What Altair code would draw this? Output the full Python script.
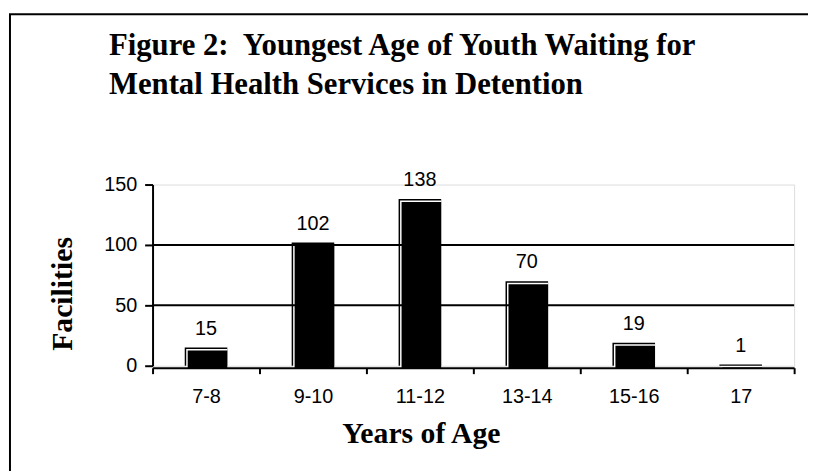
import altair as alt
import pandas as pd

ages = ["7-8", "9-10", "11-12", "13-14", "15-16", "17"]
facilities = [15, 102, 138, 70, 19, 1]
y_ticks = [0, 50, 100, 150]
grid_values = [50, 100]
title_lines = ["Figure 2:\u00a0 Youngest Age of Youth Waiting for",
               "Mental Health Services in Detention"]

df = pd.DataFrame({"age": ages, "facilities": facilities})
grid_df = pd.DataFrame({"v": grid_values})
frame_df = pd.DataFrame({"k": [0]})

SERIF = "Liberation Serif"
SANS = "Liberation Sans"

x_axis = alt.Axis(
    title="Years of Age", titleFont=SERIF, titleFontSize=30, titleFontWeight="bold",
    titleColor="black", titleX=271, titleY=67, titleBaseline="middle",
    labelAngle=0, labelFont=SANS, labelFontSize=20, labelColor="black",
    labelPadding=13, tickBand="extent", tickColor="black", tickWidth=2,
    tickSize=6, domainColor="black", domainWidth=2, offset=2, zindex=1,
)
y_axis = alt.Axis(
    values=y_ticks, grid=False, title="Facilities", titleFont=SERIF,
    titleFontSize=30, titleFontWeight="bold", titleColor="black",
    titleX=-91, titleY=110, titleBaseline="middle", titleAngle=270, titleAlign="center",
    labelFont=SANS, labelFontSize=20, labelColor="black", labelPadding=8,
    tickColor="black", tickWidth=2, tickSize=8, domainColor="black",
    domainWidth=2, zindex=1,
)
y_scale = alt.Scale(domain=[0, 150], nice=False)

x_enc = alt.X("age:N", sort=ages, scale=alt.Scale(paddingInner=0, paddingOuter=0), axis=x_axis)
y_enc = alt.Y("facilities:Q", scale=y_scale, axis=y_axis)

base = alt.Chart(df)
bar_a = base.mark_bar(color="black", width=43).encode(x=x_enc, y=y_enc)
bar_b = base.mark_bar(color="white", width=41.5, xOffset=0.75, yOffset=1.5).encode(x=x_enc, y=y_enc)
bar_c = base.mark_bar(color="black", width=40, xOffset=1.5, yOffset=3).encode(x=x_enc, y=y_enc)
labels = base.mark_text(dy=-13, baseline="alphabetic", font=SANS, fontSize=20, color="black").encode(
    x=x_enc, y=y_enc, text="facilities:Q"
)

grid = alt.Chart(grid_df).mark_rule(color="black", strokeWidth=2).encode(
    y=alt.Y("v:Q", scale=y_scale, axis=y_axis)
)

title_text = alt.Chart(frame_df).mark_text(
    text=title_lines, align="left", baseline="alphabetic", font=SERIF, fontSize=31,
    fontWeight="bold", color="black", lineHeight=40,
).encode(x=alt.value(-44), y=alt.value(-131))

left_border = alt.Chart(frame_df).mark_rule(color="black", strokeWidth=2).encode(
    x=alt.value(-144), y=alt.value(-172), y2=alt.value(300)
)
top_border = alt.Chart(frame_df).mark_rule(color="black", strokeWidth=2).encode(
    x=alt.value(-145), x2=alt.value(670), y=alt.value(-172)
)

chart = alt.layer(bar_a, bar_b, bar_c, grid, labels, title_text, left_border, top_border).properties(
    width=648, height=183,
    autosize=alt.AutoSizeParams(type="none"),
    padding={"left": 146, "top": 176, "right": 14, "bottom": 104},
).configure_view(stroke="#808080", strokeWidth=2).configure(background="white")

chart.save("out.html", embed_options={"renderer": "svg", "actions": False})
